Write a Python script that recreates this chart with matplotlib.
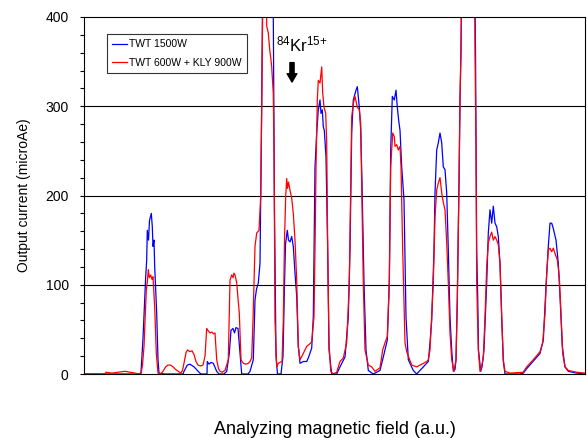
import numpy as np
import matplotlib
matplotlib.use('Agg')
import matplotlib.pyplot as plt

plt.rcParams['font.family'] = ['Liberation Sans', 'DejaVu Sans']
plt.rcParams['mathtext.fontset'] = 'custom'
plt.rcParams['mathtext.rm'] = 'Liberation Sans'
plt.rcParams['mathtext.default'] = 'regular'

# magnetic field (a.u.) and output current (microAe)
field_blue = [84, 105, 140, 141, 143, 145.7, 146.7, 147.3, 148.5, 149.5, 151.3, 152.3, 153, 154, 154.7,
              156.7, 158, 159, 165, 183, 184, 187.3, 190, 194, 199, 201, 207, 207.3, 209, 211, 213.3,
              216.7, 219, 224, 226.7, 229.3, 231, 233, 234.5, 236, 238, 240, 241.7, 248, 250, 253.3,
              255, 256.5, 258.3, 260, 260.7, 261.7, 263, 272.5, 273.3, 274.5, 276, 277.5, 281, 283,
              284.5, 285.5, 287.3, 288.5, 290, 291.7, 293.3, 295, 296.7, 298.3, 300, 303.3, 306.7,
              308.3, 311.7, 313.3, 315, 316.7, 318.3, 320, 321, 322.3, 323.3, 324.3, 326, 327.7, 329,
              331.7, 336.7, 340, 345, 348.3, 350, 351.7, 353.3, 356, 357.3, 359.3, 360.7, 362, 364,
              366, 368.3, 373.3, 380, 383.3, 387.3, 389.3, 390.7, 392.3, 394.3, 396, 397.3, 398.7,
              400, 401.7, 404, 406, 408.3, 413.3, 416.7, 421.7, 428.3, 430, 431.7, 434, 435, 436.7,
              438.3, 440, 441.7, 443.3, 445, 446.7, 448.3, 450, 451.7, 453.3, 455, 456, 457.3, 459,
              460, 461, 462, 474.5, 475.5, 476.7, 477.7, 478.5, 480.7, 482, 484, 485.3, 486.7, 488.3,
              490, 491.7, 493.3, 495, 496.7, 498.3, 500, 501.7, 503.3, 505, 520, 523.3, 526.7, 533,
              540, 543.3, 546, 548.3, 550, 551.7, 553.3, 556, 558.3, 560, 562.3, 565, 568.3, 576.7, 585]
current_blue = [0, 0, 0, 2, 40, 109, 128, 161, 150, 172, 180, 165, 143, 150, 120,
                68, 16, 1, 0, 0, 3, 10, 11, 8, 2, 0, 0, 14, 11, 13, 12,
                3, 0, 0, 3, 23, 49, 51, 46, 52, 51, 23, 0, 0, 3, 16,
                83, 95, 102, 124, 199, 300, 480, 480, 400, 183, 20, 0, 0, 20,
                100, 145, 161, 150, 148, 154, 143, 113, 87, 31, 12, 14, 14,
                18, 29, 64, 232, 270, 296, 307, 292, 296, 277, 273, 243, 139, 27,
                0, 0, 8, 19, 64, 139, 270, 307, 318, 322, 299, 273, 214, 102,
                27, 4, 0, 4, 19, 38, 102, 251, 311, 307, 318, 299, 284,
                273, 232, 195, 64, 16, 4, 0, 6, 14, 35, 60, 139, 203, 251,
                259, 270, 259, 232, 229, 203, 139, 64, 27, 3, 5, 16, 83, 214,
                307, 363, 480, 480, 363, 139, 87, 27, 3, 8, 27, 64, 102, 158,
                184, 169, 188, 169, 165, 154, 124, 64, 14, 0, 0, 1, 6, 14,
                23, 38, 98, 143, 169, 169, 163, 150, 124, 87, 31, 8, 3, 1, 0]

field_red = [84, 105, 106, 112, 118, 125, 130, 135, 139, 141, 142.5, 144, 146.3, 147.5, 148.3, 149.3,
             150.7, 152, 153, 154.7, 156.3, 158, 160.7, 163, 165.7, 168, 170.7, 173, 175.7, 180.7,
             182.5, 184.5, 186, 187.5, 190, 192, 194, 196, 198, 201, 203, 205, 206.7, 208.5, 210,
             212, 213.5, 215, 216.7, 218.5, 220, 222, 225, 228.3, 230, 231.7, 233, 234, 235, 236.7,
             239.3, 241, 243.3, 246, 248.3, 250, 251.7, 253, 255, 256.7, 259, 260.7, 261.7, 263.3,
             266, 266.7, 268.3, 270, 270.7, 271.7, 273.3, 274, 275, 276.7, 278.3, 280, 282, 283.3,
             284.5, 285.7, 286.7, 287.5, 288.5, 290, 291.7, 293.3, 295, 296.7, 298.3, 300, 303.3,
             306.7, 309, 311.7, 314, 315, 316, 317.3, 318.3, 320, 321.7, 322.7, 324, 325.7, 326.7,
             327.7, 329, 330.7, 333.3, 336.7, 340, 343.3, 346.7, 349.3, 350.7, 351.7, 353.3, 355,
             357.3, 359.3, 360.7, 361.7, 363.3, 365, 368.3, 371.7, 375, 380, 382.7, 385, 387.3,
             389.3, 390.7, 392.7, 394.3, 395, 396.7, 398.3, 400, 401, 402.7, 405, 406.7, 411.7,
             416.7, 420, 423.3, 426.7, 428.3, 430, 433.3, 435, 436.7, 438.3, 440, 441.7, 443.3,
             445, 446.7, 448.3, 450, 451.7, 454, 456, 457.3, 459, 460, 461, 462, 474.5, 475, 476,
             476.7, 478.3, 480, 481.5, 483.3, 485, 486.7, 488.3, 490, 491.7, 493.3, 495, 496.7,
             498.3, 500, 501.7, 503.3, 505, 510, 523.3, 526.7, 533.3, 540, 542.7, 545, 546.7, 548.3,
             550, 551.7, 553.3, 555, 557.3, 559.3, 561, 562.7, 565, 568.3, 576.7, 585]
current_red = [0, 0, 2, 1, 2, 3, 2, 1, 0, 0, 10, 31, 94, 105, 117, 108,
               111, 106, 109, 75, 23, 1, 0, 3, 8, 10, 10, 8, 5, 1,
               4, 15, 24, 27, 25, 26, 22, 14, 10, 9, 10, 20, 51, 48, 46,
               47, 45, 46, 16, 6, 3, 2, 4, 16, 105, 111, 108, 113, 111, 102,
               68, 16, 12, 11, 12, 14, 18, 60, 143, 158, 161, 199, 300, 480,
               480, 390, 382, 360, 355, 344, 314, 250, 60, 8, 12, 13, 14, 60,
               150, 199, 219, 208, 215, 206, 197, 180, 150, 105, 31, 16, 23,
               31, 33, 36, 64, 139, 232, 307, 329, 326, 344, 315, 299, 292, 259,
               139, 35, 3, 0, 2, 14, 18, 35, 102, 214, 288, 303, 311,
               299, 296, 281, 214, 102, 27, 10, 8, 3, 7, 27, 35, 42,
               102, 232, 270, 266, 255, 257, 251, 255, 232, 139, 35, 25, 10,
               8, 10, 12, 14, 16, 27, 102, 176, 206, 214, 220, 203, 192,
               184, 147, 102, 46, 16, 3, 16, 83, 214, 307, 363, 480, 480, 363, 251,
               102, 27, 3, 8, 18, 64, 120, 147, 154, 159, 150, 154, 150,
               145, 124, 64, 16, 3, 1, 2, 8, 16, 25, 35, 68, 113, 139,
               141, 137, 141, 135, 128, 109, 68, 23, 8, 4, 2, 1]

y_major = [0, 100, 200, 300, 400]

fig = plt.figure(figsize=(5.87, 4.38), dpi=100)
ax = fig.add_axes([0.1431, 0.1461, 0.8535, 0.8151])

ax.plot(field_blue, current_blue, color='#0000FF', lw=0.9, label='TWT 1500W')
ax.plot(field_red, current_red, color='#FF0000', lw=0.9, label='TWT 600W + KLY 900W')

ax.set_xlim(84, 585)
ax.set_ylim(0, 400)
ax.set_yticks(y_major)
ax.set_yticks(np.arange(0, 401, 20), minor=True)
ax.set_xticks([])
for v in y_major[1:4]:
    ax.axhline(v, color='black', lw=0.8, zorder=0)
ax.tick_params(axis='y', which='both', direction='out', length=3, width=0.8,
               labelsize=10, pad=8)
for s in ax.spines.values():
    s.set_linewidth(0.8)

ax.set_ylabel('Output current (microAe)', fontsize=10, labelpad=10)
ax.set_xlabel('Analyzing magnetic field (a.u.)', fontsize=13, labelpad=34)

leg = ax.legend(loc='upper left', bbox_to_anchor=(0.046, 0.952), borderaxespad=0,
                fontsize=7.5, fancybox=False, edgecolor='#333333', handlelength=1.4,
                handletextpad=0.25, borderpad=0.5, labelspacing=0.8, framealpha=1)
leg.get_frame().set_linewidth(0.8)

ax.text(302, 369, r'$^{84}$Kr$^{15{+}}$', fontsize=12, ha='center', va='center')
ax.annotate('', xy=(292, 324), xytext=(292, 352),
            arrowprops=dict(arrowstyle='simple,head_width=0.7,head_length=0.6,tail_width=0.3',
                            fc='black', ec='black', mutation_scale=10))

fig.savefig('out.png', dpi=100)
